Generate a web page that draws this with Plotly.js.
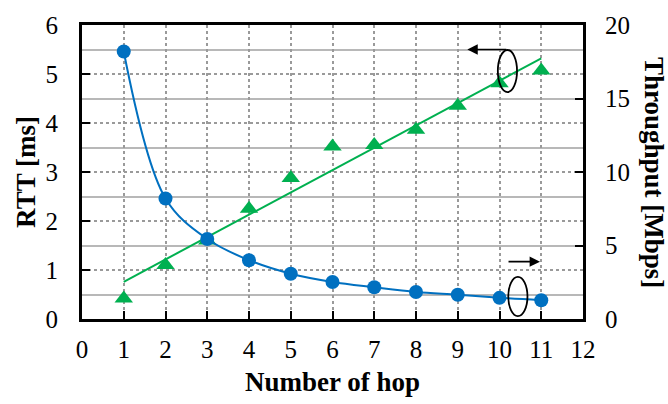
<!DOCTYPE html>
<html>
<head>
<meta charset="utf-8">
<script src="https://cdn.plot.ly/plotly-3.0.1.min.js"></script>
<style>html,body{margin:0;padding:0;background:#fff;}#chart{width:668px;height:404px;}.modebar-container{display:none !important;}</style>
</head>
<body>
<div id="chart"></div>
<script>
// Number of hops
var hops = [1, 2, 3, 4, 5, 6, 7, 8, 9, 10, 11];
// RTT [ms] (left axis, green triangles)
var rtt = [0.42, 1.10, 1.60, 2.25, 2.88, 3.52, 3.55, 3.86, 4.35, 4.81, 5.07];
// Linear fit of RTT (end points)
var rttFitX = [1, 11];
var rttFitY = [0.76, 5.32];
// Throughput [Mbps] (right axis, blue circles)
var throughput = [18.2, 8.2, 5.44, 4.0, 3.08, 2.52, 2.16, 1.84, 1.65, 1.44, 1.28];
// Tick values
var xTicks = [0,1,2,3,4,5,6,7,8,9,10,11,12];
var yLeftTicks = [0,1,2,3,4,5,6];
var yRightTicks = [0,5,10,15,20];

var blue = '#0070C0', green = '#00B050';
var FAM = 'Liberation Serif';
function tickFont() { return {family: FAM, size: 25, color: '#000'}; }
function titleFont() { return {family: FAM, size: 27, color: '#000'}; }

var traces = [
  {x: rttFitX, y: rttFitY, mode: 'lines', line: {color: green, width: 2}, yaxis: 'y', hoverinfo: 'skip'},
  {x: hops, y: rtt, mode: 'markers', marker: {symbol: 'triangle-up', size: 16, color: green}, yaxis: 'y'},
  {x: hops, y: throughput, mode: 'lines+markers', line: {color: blue, width: 2, shape: 'spline', smoothing: 1}, marker: {symbol: 'circle', size: 14, color: blue}, yaxis: 'y2'}
];

var layout = {
  width: 668, height: 404,
  margin: {l: 82, r: 85, t: 25, b: 85},
  paper_bgcolor: '#fff', plot_bgcolor: '#fff',
  showlegend: false,
  xaxis: {
    range: [0, 12], tickvals: xTicks, ticktext: xTicks.map(String),
    ticks: 'inside', ticklen: 8, tickwidth: 2, tickcolor: '#000',
    showline: true, linecolor: '#000', linewidth: 3, mirror: true,
    showgrid: true, gridcolor: '#9a9a9a', griddash: 'dot', gridwidth: 1.5,
    zeroline: false, tickfont: tickFont(), ticklabelstandoff: 6,
    title: {text: '<b>Number of hop</b>', font: titleFont(), standoff: 11}
  },
  yaxis: {
    range: [0, 6], tickvals: yLeftTicks, ticktext: yLeftTicks.map(String),
    ticks: 'inside', ticklen: 8, tickwidth: 2, tickcolor: '#000',
    showline: true, linecolor: '#000', linewidth: 3,
    showgrid: true, gridcolor: '#9a9a9a', griddash: 'dot', gridwidth: 1.5,
    minor: {tick0: 0.5, dtick: 1, showgrid: true, gridcolor: '#b8b8b8', gridwidth: 1.5, griddash: 'solid', ticks: ''},
    zeroline: false, tickfont: tickFont(), ticklabelstandoff: 16,
    title: {text: '<b>RTT [ms]</b>', font: titleFont(), standoff: 3}
  },
  yaxis2: {
    range: [0, 20], tickvals: yRightTicks, ticktext: yRightTicks.map(String),
    overlaying: 'y', side: 'right',
    ticks: 'inside', ticklen: 8, tickwidth: 2, tickcolor: '#000',
    showline: true, linecolor: '#000', linewidth: 3,
    showgrid: false, zeroline: false, tickfont: tickFont(), ticklabelstandoff: 14
  },
  shapes: [
    {type: 'circle', xref: 'x', yref: 'y', x0: 9.96, x1: 10.42, y0: 4.63, y1: 5.49, line: {color: '#000', width: 1.8}},
    {type: 'circle', xref: 'x', yref: 'y', x0: 10.21, x1: 10.67, y0: 0.06, y1: 0.86, line: {color: '#000', width: 1.8}}
  ],
  annotations: [
    {x: 9.23, y: 5.5, ax: 10.2, ay: 5.5, xref: 'x', yref: 'y', axref: 'x', ayref: 'y', text: '', showarrow: true, arrowhead: 2, arrowsize: 1.3, arrowwidth: 1.6, arrowcolor: '#000'},
    {x: 10.97, y: 1.17, ax: 10.18, ay: 1.17, xref: 'x', yref: 'y', axref: 'x', ayref: 'y', text: '', showarrow: true, arrowhead: 2, arrowsize: 1.3, arrowwidth: 1.6, arrowcolor: '#000'},
    {x: 1, y: 0.5, xref: 'paper', yref: 'paper', xanchor: 'center', yanchor: 'middle', xshift: 71, text: '<b>Throughput [Mbps]</b>', textangle: 90, showarrow: false, font: titleFont()}
  ]
};

Plotly.newPlot('chart', traces, layout);
</script>
</body>
</html>
